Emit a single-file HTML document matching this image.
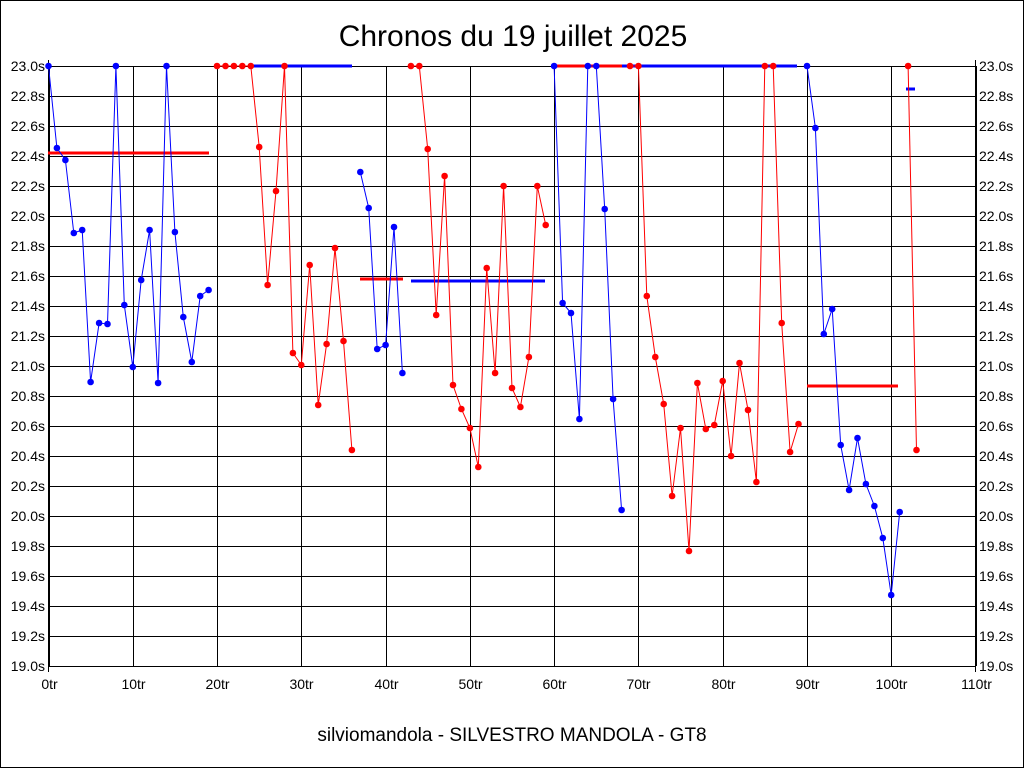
<!DOCTYPE html>
<html><head><meta charset="utf-8"><style>
html,body{margin:0;padding:0;background:#fff}
svg{display:block}
text{font-family:"Liberation Sans",sans-serif}
</style></head><body>
<svg id="s" width="1024" height="768" xmlns="http://www.w3.org/2000/svg">
<rect x="0.5" y="0.5" width="1023" height="767" fill="#fff" stroke="#000"/>
<text x="513" y="46" font-size="30" text-anchor="middle">Chronos du 19 juillet 2025</text>
<text x="512" y="741" font-size="19" text-anchor="middle">silviomandola - SILVESTRO MANDOLA - GT8</text>
<g id="g"></g>
</svg>
<script>
var g=document.getElementById('g'),h='';
var X0=48.5,XS=(975.5-48.5)/110,Y0=66;
function X(i){return X0+XS*i}
for(var k=0;k<=20;k++){var y=Y0+k*30;var v=(23-k*0.2).toFixed(1);
h+='<line x1="48" x2="975" y1="'+(y+0.5)+'" y2="'+(y+0.5)+'" stroke="#000"/>';
h+='<text x="45" y="'+(y+5)+'" font-size="14" text-anchor="end">'+v+'s</text>';
h+='<text x="979" y="'+(y+5)+'" font-size="14">'+v+'s</text>';}
for(var k=0;k<=11;k++){var x=Math.round(X(k*10))+0.5;
h+='<line y1="66" y2="666" x1="'+x+'" x2="'+x+'" stroke="#000"/>';
h+='<text x="'+x+'" y="689" font-size="14" text-anchor="middle">'+(k*10)+'tr</text>';}
h+='<line x1="48.5" x2="48.5" y1="60" y2="672" stroke="#000"/><line x1="975.5" x2="975.5" y1="60" y2="672" stroke="#000"/>';
var segs=[
['#00f',0,[66,148,160,233,230,382,323,324,66,305,367,280,230,383,66,232,317,362,296,290]],
['#f00',20,[66,66,66,66,66,147,285,191,66,353,365,265,405,344,248,341,450]],
['#00f',37,[172,208,349,345,227,373]],
['#f00',43,[66,66,149,315,176,385,409,428,467,268,373,186,388,407,357,186,225]],
['#00f',60,[66,303,313,419,66,66,209,399,510]],
['#f00',69,[66,66,296,357,404,496,428,551,383,429,425,381,456,363,410,482,66,66,323,452,424]],
['#00f',90,[66,128,334,309,445,490,438,484,506,538,595,512]],
['#f00',102,[66,450]]];
var hl=[['#f00',48,209,153],['#00f',250,352,66],['#f00',360,403,279],['#00f',411,545,281],['#f00',554,622,66],['#00f',622,797,66],['#f00',807,898,386],['#00f',906,915,89]];
hl.forEach(function(l){h+='<line x1="'+l[1]+'" x2="'+l[2]+'" y1="'+l[3]+'" y2="'+l[3]+'" stroke="'+l[0]+'" stroke-width="3"/>';});
segs.forEach(function(s){var p=s[2].map(function(y,j){return X(s[1]+j).toFixed(1)+','+y}).join(' ');
h+='<polyline points="'+p+'" fill="none" stroke="'+s[0]+'" stroke-width="1"/>';
s[2].forEach(function(y,j){h+='<circle cx="'+X(s[1]+j).toFixed(1)+'" cy="'+y+'" r="3.3" fill="'+s[0]+'"/>';});});
g.innerHTML=h;
</script>
</body></html>
